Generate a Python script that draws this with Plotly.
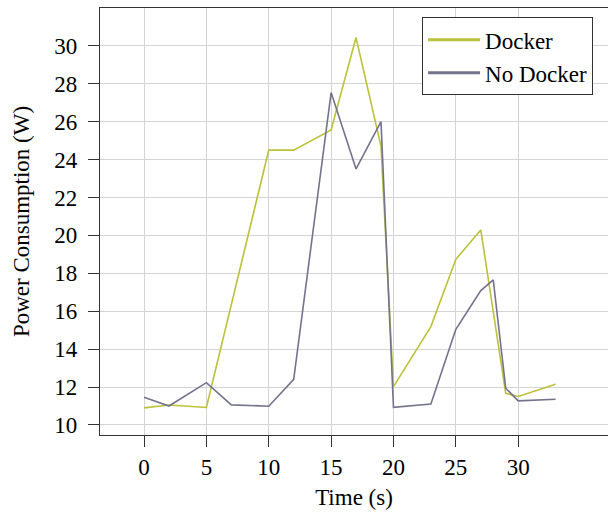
import plotly.graph_objects as go

# Data
docker_t = [0, 2, 5, 10, 12, 15, 17, 19, 20, 23, 25, 27, 29, 30, 33]
docker_w = [10.9, 11.05, 10.92, 24.5, 24.5, 25.57, 30.44, 24.7, 12.02, 15.19, 18.74, 20.29, 11.67, 11.5, 12.15]

nodocker_t = [0, 2, 5, 7, 10, 12, 15, 17, 19, 20, 23, 25, 27, 28, 29, 30, 33]
nodocker_w = [11.46, 11.0, 12.23, 11.06, 10.99, 12.41, 27.54, 23.51, 26.0, 10.93, 11.1, 15.05, 17.09, 17.65, 11.94, 11.27, 11.36]

x_ticks = [0, 5, 10, 15, 20, 25, 30]
y_ticks = [10, 12, 14, 16, 18, 20, 22, 24, 26, 28, 30]

series_names = ["Docker", "No Docker"]
series_colors = ["#bcc13a", "#74738d"]

FONT = "Liberation Serif, Times New Roman, serif"
FS = 23

fig = go.Figure()
for t, w, name, col in [(docker_t, docker_w, series_names[0], series_colors[0]),
                        (nodocker_t, nodocker_w, series_names[1], series_colors[1])]:
    fig.add_trace(go.Scatter(x=t, y=w, mode="lines", name=name, showlegend=False,
                             line=dict(color=col, width=1.6), legendgroup=name))
# legend entries with thicker sample lines (as in the reference)
for name, col in zip(series_names, series_colors):
    fig.add_trace(go.Scatter(x=[None], y=[None], mode="lines", name=name,
                             line=dict(color=col, width=3), legendgroup=name))

fig.update_layout(
    width=608, height=515,
    margin=dict(l=100, r=0, t=8, b=80, autoexpand=False),
    paper_bgcolor="white", plot_bgcolor="white",
    font=dict(family=FONT, size=FS, color="black"),
    showlegend=True,
    legend=dict(x=0.634, y=0.978, xanchor="left", yanchor="top",
                bordercolor="#333", borderwidth=1, bgcolor="white",
                font=dict(family=FONT, size=FS, color="black"), tracegroupgap=0,
                itemwidth=52),
)
fig.update_xaxes(
    range=[-3.53, 37.2], tickvals=x_ticks, ticktext=[str(v) for v in x_ticks],
    showgrid=True, gridcolor="#d4d4d4", gridwidth=1,
    showline=True, linecolor="#333", linewidth=1.2, mirror=True,
    ticks="outside", ticklen=11, tickcolor="#333",
    tickfont=dict(family=FONT, size=FS, color="black"),
    zeroline=False, automargin=False,
    title=dict(text="Time (s)", standoff=10, font=dict(family=FONT, size=FS, color="black")),
)
fig.update_yaxes(
    range=[9.47, 32.0], tickvals=y_ticks, ticktext=[str(v) for v in y_ticks],
    showgrid=True, gridcolor="#d4d4d4", gridwidth=1,
    showline=True, linecolor="#333", linewidth=1.2, mirror=False,
    ticks="outside", ticklen=11, tickcolor="#333", ticklabelstandoff=6,
    tickfont=dict(family=FONT, size=FS, color="black"),
    zeroline=False, automargin=False,
    title=dict(text="Power Consumption (W)", standoff=18, font=dict(family=FONT, size=FS, color="black")),
)

fig.write_html("out.html", config={"displayModeBar": False},
               post_script="document.body.style.margin='0';document.body.style.padding='0';")
